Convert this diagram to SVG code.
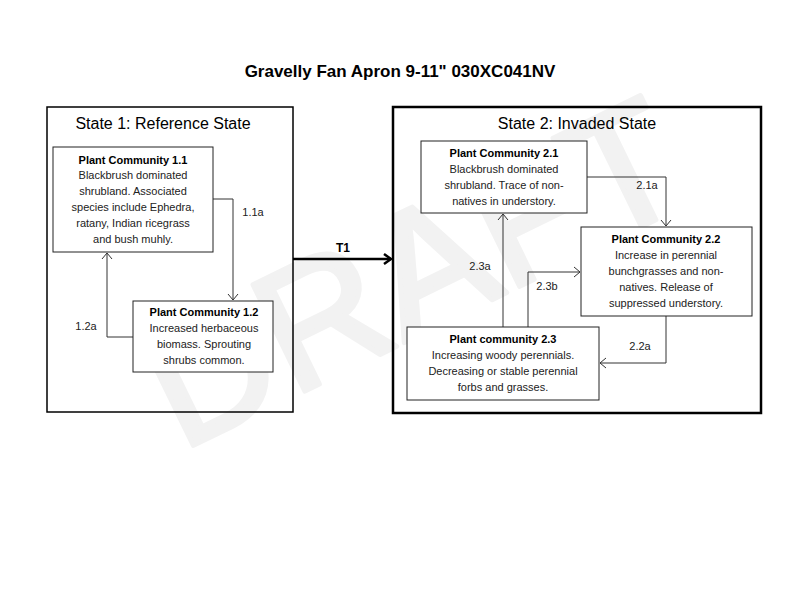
<svg xmlns="http://www.w3.org/2000/svg" width="800" height="600" viewBox="0 0 800 600">
<style>
text{font-family:"Liberation Sans",Arial,sans-serif;fill:#000}
.title{font-size:17px;font-weight:bold;text-anchor:middle}
.st{font-size:16px;text-anchor:middle}
.nt{font-size:11px;text-anchor:middle;fill:#222}
.nb{font-weight:bold;fill:#000}
.lbl{font-size:11px;text-anchor:middle;fill:#222}
.box{fill:#fff;stroke:#222;stroke-width:1}
.state{fill:none;stroke:#000}
.conn{fill:none;stroke:#333;stroke-width:1}
.wm{font-size:172px;fill:#f2f2f2;stroke:#f2f2f2;stroke-width:5;stroke-linejoin:round;text-anchor:middle}
</style>
<defs>
<marker id="arr" markerWidth="12" markerHeight="12" refX="9" refY="6" orient="auto" markerUnits="userSpaceOnUse">
<path d="M3,1 L9,6 L3,11" fill="none" stroke="#333" stroke-width="1"/>
</marker>
<marker id="arrT" markerWidth="14" markerHeight="14" refX="10" refY="7" orient="auto" markerUnits="userSpaceOnUse">
<path d="M3,2 L10,7 L3,12" fill="none" stroke="#000" stroke-width="2.5"/>
</marker>
</defs>
<rect width="800" height="600" fill="#fff"/>
<text class="wm" x="412" y="332" transform="rotate(-26 412 272)">DRAFT</text>
<text class="title" x="400" y="77">Gravelly Fan Apron 9-11" 030XC041NV</text>
<g id="state1">
<rect class="state" x="47" y="107" width="246" height="305" stroke-width="1.5"/>
<text class="st" x="163" y="129">State 1: Reference State</text>
</g>
<g id="state2">
<rect class="state" x="393" y="107" width="368" height="306" stroke-width="2.5"/>
<text class="st" x="577" y="129">State 2: Invaded State</text>
</g>
<g id="connectors">
<polyline class="conn" points="213,199 233,199 233,300" marker-end="url(#arr)"/>
<text class="lbl" x="253" y="216">1.1a</text>
<polyline class="conn" points="133,337 107,337 107,253" marker-end="url(#arr)"/>
<text class="lbl" x="86" y="330">1.2a</text>
<polyline class="conn" points="587,177 666,177 666,226" marker-end="url(#arr)"/>
<text class="lbl" x="647" y="189">2.1a</text>
<polyline class="conn" points="666,316 666,363 600,363" marker-end="url(#arr)"/>
<text class="lbl" x="640" y="350">2.2a</text>
<polyline class="conn" points="503,327 503,214" marker-end="url(#arr)"/>
<text class="lbl" x="480" y="270">2.3a</text>
<polyline class="conn" points="528,327 528,272 580,272" marker-end="url(#arr)"/>
<text class="lbl" x="547" y="290">2.3b</text>
<line x1="293" y1="259" x2="391" y2="259" stroke="#000" stroke-width="2.5" marker-end="url(#arrT)"/>
<text x="343" y="252" style="font-size:12px;font-weight:bold;text-anchor:middle">T1</text>
</g>
<g id="pc11">
<rect class="box" x="53" y="147" width="160" height="105"/>
<text class="nt" x="133" y="164"><tspan class="nb">Plant Community 1.1</tspan><tspan x="133" y="179">Blackbrush dominated</tspan><tspan x="133" y="195">shrubland. Associated</tspan><tspan x="133" y="211">species include Ephedra,</tspan><tspan x="133" y="227">ratany, Indian ricegrass</tspan><tspan x="133" y="243">and bush muhly.</tspan></text>
</g>
<g id="pc12">
<rect class="box" x="133" y="301" width="140" height="71"/>
<text class="nt" x="204" y="316"><tspan class="nb">Plant Community 1.2</tspan><tspan x="204" y="332">Increased herbaceous</tspan><tspan x="204" y="348">biomass. Sprouting</tspan><tspan x="204" y="364">shrubs common.</tspan></text>
</g>
<g id="pc21">
<rect class="box" x="421" y="141" width="166" height="72"/>
<text class="nt" x="504" y="157"><tspan class="nb">Plant Community 2.1</tspan><tspan x="504" y="173">Blackbrush dominated</tspan><tspan x="504" y="189">shrubland.  Trace of non-</tspan><tspan x="504" y="205">natives in understory.</tspan></text>
</g>
<g id="pc22">
<rect class="box" x="581" y="227" width="171" height="89"/>
<text class="nt" x="666" y="243"><tspan class="nb">Plant Community 2.2</tspan><tspan x="666" y="259">Increase in perennial</tspan><tspan x="666" y="275">bunchgrasses and non-</tspan><tspan x="666" y="291">natives. Release of</tspan><tspan x="666" y="307">suppressed understory.</tspan></text>
</g>
<g id="pc23">
<rect class="box" x="407" y="327" width="192" height="73"/>
<text class="nt" x="503" y="343"><tspan class="nb">Plant community 2.3</tspan><tspan x="503" y="359">Increasing woody perennials.</tspan><tspan x="503" y="375">Decreasing or stable perennial</tspan><tspan x="503" y="391">forbs and grasses.</tspan></text>
</g>
</svg>
